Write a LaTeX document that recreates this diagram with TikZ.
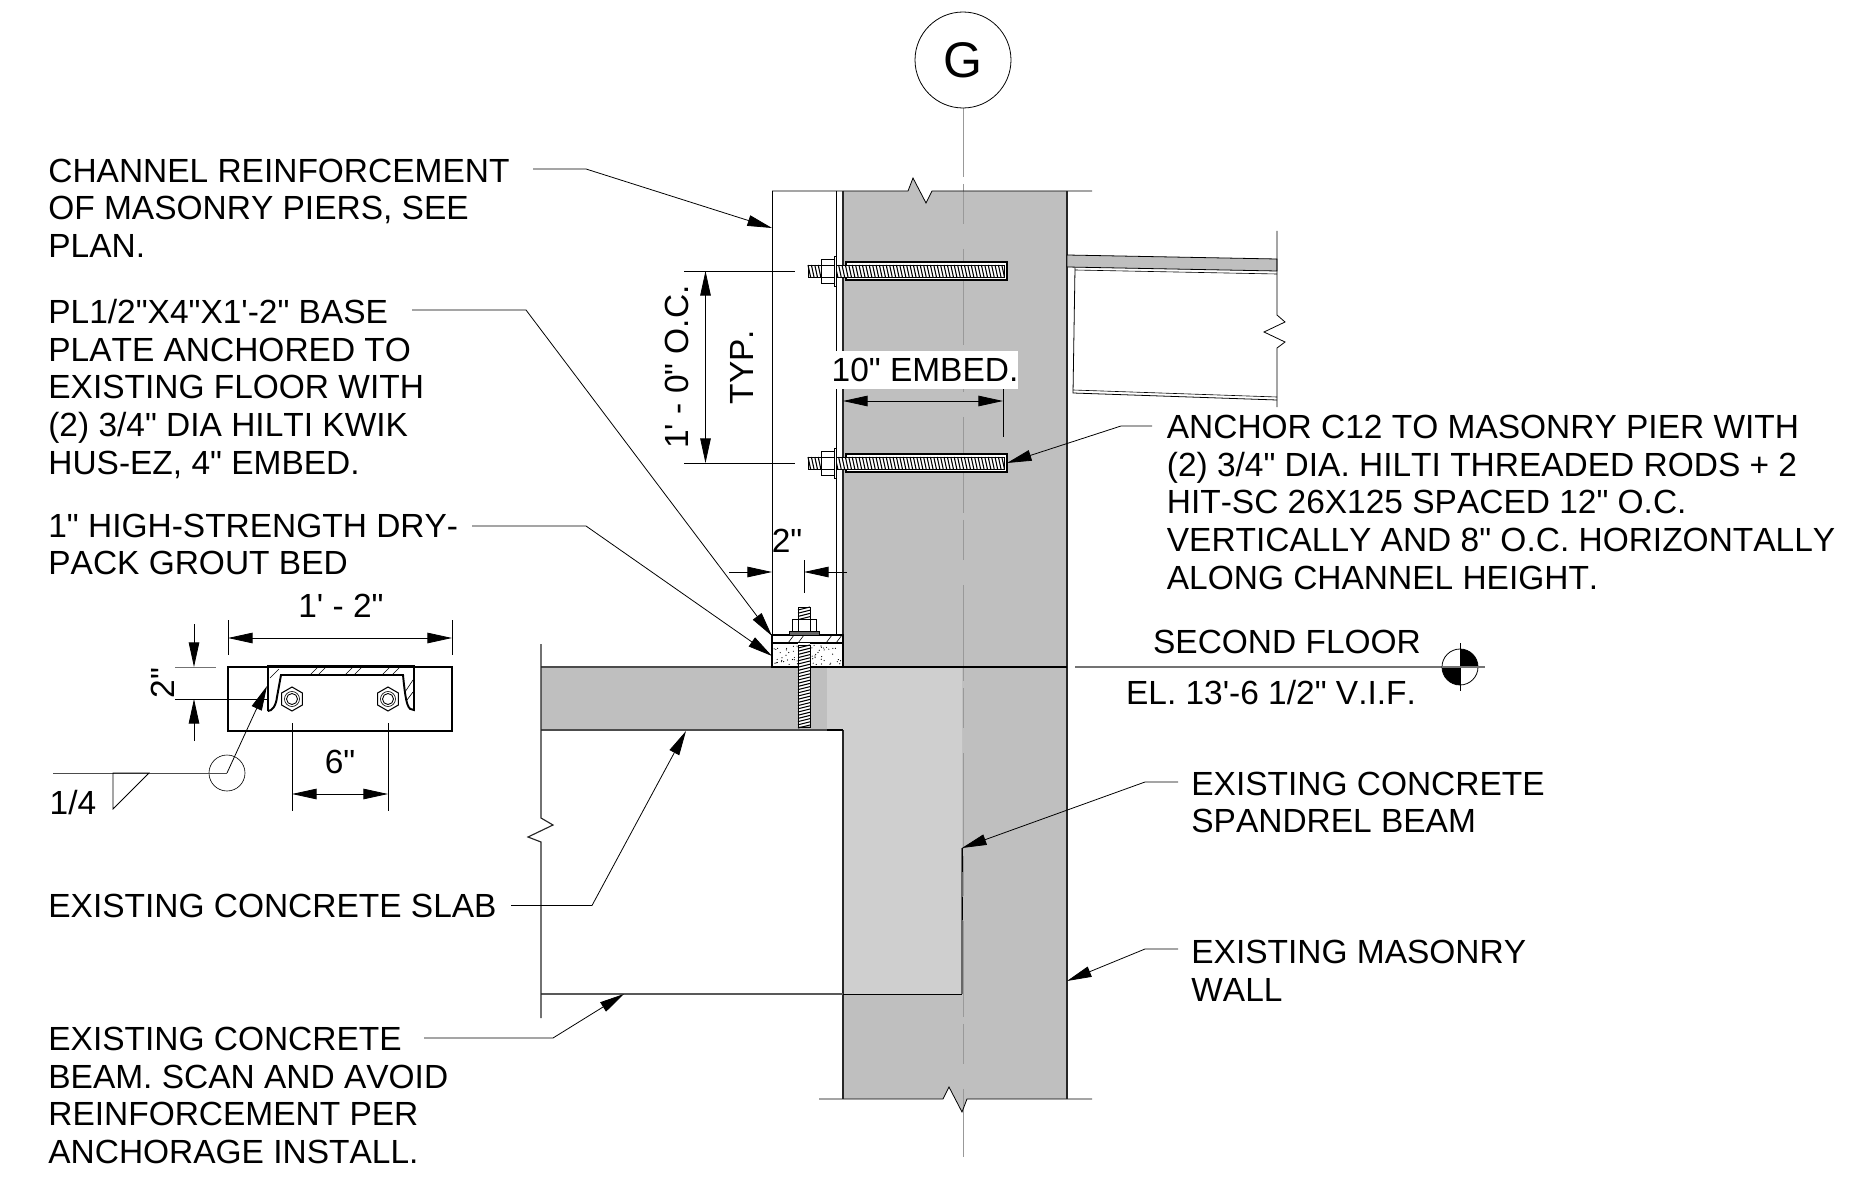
\documentclass[tikz,border=0pt]{standalone}
\usepackage{fontspec}
\newfontfamily\lbfont{Liberation Sans}[Kerning=Off]
\usetikzlibrary{arrows.meta,shapes.geometric,calc}
\definecolor{masonry}{HTML}{BFBFBF}
\definecolor{lightconc}{HTML}{CFCFCF}
\definecolor{cline}{HTML}{999999}
\tikzset{
  thick line/.style={line width=0.85pt,black},
  thin line/.style={line width=0.45pt,black},
  wall line/.style={line width=0.65pt,black!85},
  hair/.style={line width=0.35pt,black},
  lbl/.style={font=\lbfont\fontsize{19.05pt}{21.4pt}\selectfont,align=left,inner sep=0pt,anchor=north west},
  dimtxt/.style={font=\lbfont\fontsize{19.05pt}{21.4pt}\selectfont,inner sep=0pt},
  leader/.style={line width=0.45pt,-{Triangle[length=14pt,width=6.2pt]}},
  dimline/.style={line width=0.45pt,{Triangle[length=14pt,width=6pt]}-{Triangle[length=14pt,width=6pt]}},
  dimoneway/.style={line width=0.45pt,-{Triangle[length=14pt,width=6pt]}},
  center dash/.style={line width=0.55pt,cline,dash pattern=on 54.63pt off 3.98pt on 22.76pt off 14.23pt,dash phase=15.37pt},
}
\newcommand{\threadH}[3]{%
  \fill[white] (#1,{#3-6}) rectangle (#2,{#3+6});
  \pgfmathtruncatemacro{\tn}{(#2-#1)/3.4}%
  \foreach \k in {0,...,\tn}{\draw[line width=0.62pt] ({#1+\k*3.4},{#3-6}) -- ({#1+\k*3.4+2.6},{#3+6});}%
  \draw[line width=0.3pt] (#1,{#3-6}) rectangle (#2,{#3+6});}
\newcommand{\threadV}[3]{%
  \pgfmathtruncatemacro{\tn}{(#3-#2)/3.2}%
  \foreach \k in {0,...,\tn}{\draw[line width=0.6pt] ({#1-6},{#2+\k*3.2+3}) -- ({#1+6},{#2+\k*3.2});}%
  \draw[line width=0.35pt] ({#1-6},#2) rectangle ({#1+6},{#3+1});}
\newcommand{\anchorrod}[1]{%
  \draw[line width=0.8pt,fill=white] (846,{#1-9}) rectangle (1007,{#1+9});
  \threadH{808}{1004}{#1}
  \draw[line width=0.45pt,fill=white] (821,{#1-12}) rectangle (834,{#1+12});
  \draw[line width=0.35pt] (821,{#1-6}) -- (834,{#1-6}) (821,{#1+6}) -- (834,{#1+6});
  \draw[line width=0.45pt,fill=white] (834,{#1-15}) rectangle (836,{#1+15});}
\begin{document}
\begin{tikzpicture}[x=0.02cm,y=-0.02cm]
\useasboundingbox (0,0) rectangle (1856,1179);
% fills
\fill[masonry] (843,191) -- (908,191) -- (913,178) -- (926,203) -- (932,191) -- (1067,191)
  -- (1067,1099) -- (967,1099) -- (962,1112) -- (949,1087) -- (943,1099) -- (843,1099) -- cycle;
\fill[masonry] (541,667) rectangle (843,730);
\fill[lightconc] (827,667) -- (962,667) -- (962,994) -- (843,994) -- (843,730) -- (827,730) -- cycle;
% centre line
\coordinate (cltop) at (963,108);
\coordinate (clbot) at (963,1157);
\draw[center dash] (cltop) -- (clbot);
% grid bubble
\node[draw,circle,line width=0.45pt,minimum size=1.92cm,inner sep=0pt,font=\lbfont\fontsize{28.5pt}{30pt}\selectfont] (gb) at (963,60) {G};
% wall outlines
\draw[thin line] (772,191) -- (908,191) -- (913,178) -- (926,203) -- (932,191) -- (1092,191);
\draw[thin line] (819,1099) -- (943,1099) -- (949,1087) -- (962,1112) -- (967,1099) -- (1092,1099);
\draw[wall line] (1067,191) -- (1067,1099);
\draw[wall line] (843,191) -- (843,667);
\draw[wall line] (843,730) -- (843,1099);
\draw[thin line] (836,191) -- (836,635);
\draw[thin line] (772,191) -- (772,635);
% floor / slab
\draw[line width=0.75pt,black!70] (541,667) -- (772,667);
\draw[thick line] (772,667) -- (1067,667);
\draw[line width=0.7pt,black!55] (1075,667) -- (1442,667);
\draw[line width=0.75pt,black!70] (541,730) -- (827,730);
\draw[thick line] (827,730) -- (843,730);
\draw[line width=0.75pt,black!65] (541,994) -- (843,994);
\draw[thin line] (843,994) -- (962,994);
\draw[line width=0.6pt,black!60] (962,848) -- (962,994);
\draw[thin line] (962,848) -- (962,872) (962,897) -- (962,920);
\draw[wall line] (541,644) -- (541,818) -- (553,825) -- (528,837) -- (541,842) -- (541,1018);
% steel at the right
\draw[thin line,fill=masonry] (1067,255) -- (1277,259) -- (1277,271) -- (1067,267) -- cycle;
\draw[thin line] (1075,268) -- (1073,393) -- (1277,400);
\draw[hair] (1075,270) -- (1277,274);
\draw[hair] (1073,390) -- (1277,397);
\draw[thin line] (1277,231) -- (1277,315) -- (1285,322) -- (1264,332) -- (1285,342) -- (1277,348) -- (1277,407);
% anchor rods
\anchorrod{271}
\anchorrod{463}
% base plate and grout
\draw[thick line,fill=white] (772,635) rectangle (843,643);
\foreach \hx in {792,802,830,840}{\draw[hair] ({\hx-4},643) -- ({\hx+2},635);}
\draw[line width=1.1pt,fill=white] (772,643) rectangle (843,667);
\pgfmathsetseed{7}
\foreach \i in {1,...,60}{%
  \pgfmathsetmacro{\dx}{811+rnd*30}\pgfmathsetmacro{\dy}{645+rnd*20}%
  \pgfmathsetmacro{\dz}{ifthenelse(mod(\i,2)==0,\dx,\dx-37)}%
  \fill (\dz,\dy) circle (0.012cm);}
% floor anchor
\fill[white] (798,643) rectangle (810,726);
\fill[white] (798,607) rectangle (810,619);
\threadV{804}{607}{619}
\threadV{804}{645}{726}
\draw[thin line,fill=white] (792,619) rectangle (816,631);
\draw[hair] (798,619) -- (798,631) (810,619) -- (810,631);
\draw[thin line,fill=black!60] (789,631) rectangle (819,635);
% dimensions on elevation
\coordinate (ex1a) at (684,271); \coordinate (ex1b) at (795,271);
\coordinate (ex2a) at (684,463); \coordinate (ex2b) at (795,463);
\draw[hair] (ex1a) -- (ex1b) (ex2a) -- (ex2b);
\coordinate (d1a) at (705.5,271); \coordinate (d1b) at (705.5,463);
\draw[dimline] (d1a) -- (d1b);
\node[dimtxt,rotate=90] (oc) at (677,367) {1' - 0" O.C.};
\node[dimtxt,rotate=90] (typ) at (742,367) {TYP.};
% 10" embed
\node[dimtxt,fill=white,minimum width=104.7pt,minimum height=21.6pt] (emb) at (925,370) {10" EMBED.};
\coordinate (e1) at (843,401); \coordinate (e2) at (1003,401);
\coordinate (e3) at (1003,389); \coordinate (e4) at (1003,437);
\draw[dimline] (e1) -- (e2);
\draw[hair] (e3) -- (e4);
% 2" at channel
\coordinate (f1) at (729,572); \coordinate (f2) at (772,572);
\coordinate (f3) at (847,572); \coordinate (f4) at (804,572);
\coordinate (f5) at (804,560); \coordinate (f6) at (804,593);
\draw[dimoneway] (f1) -- (f2);
\draw[dimoneway] (f3) -- (f4);
\draw[hair] (f5) -- (f6);
\node[dimtxt] (two) at (787,541) {2"};
% elevation marker
\coordinate (el) at (1460,667);
\fill (el) -- ++(0,-18) arc[start angle=90,end angle=0,radius=.36cm] -- cycle;
\fill (el) -- ++(0,18) arc[start angle=270,end angle=180,radius=.36cm] -- cycle;
\draw[thin line] (el) circle (.36cm);
\draw[hair] (1460,643) -- (1460,691);
\draw[line width=0.7pt,black!55] (1442,667) -- (1485,667);
\node[dimtxt,anchor=center] (sf) at (1287,642) {SECOND FLOOR};
\node[dimtxt,anchor=center] (elv) at (1271,693) {EL. 13'-6 1/2" V.I.F.};
% plan detail
\draw[thick line] (228,667) rectangle (452,731);
\draw[line width=1.1pt] (268,711) -- (268,666) -- (414,666) -- (414,710) .. controls (408,710) and (406,706) .. (403,675) -- (281,675) -- (277,697) .. controls (276,706) and (272,711) .. (268,711);
\foreach \hx in {310,318,345,354,382,392}{\draw[hair] (\hx,675) -- ({\hx+8},667);}
\draw[hair] (270,678) -- (279,669);
\draw[hair] (405,692) -- (413,680);
\draw[hair] (407,700) -- (413,692);
\foreach \bx/\bn in {292/pa,388/pb}{%
  \node[draw,regular polygon,regular polygon sides=6,shape border rotate=30,line width=0.6pt,minimum size=0.48cm,inner sep=0pt] (\bn) at (\bx,699) {};
  \draw[hair] (\bx,699) circle (0.15cm);
  \draw[line width=0.5pt] (\bx,699) circle (0.11cm);}
% plan dims
\coordinate (p1) at (228,620); \coordinate (p2) at (228,655);
\coordinate (p3) at (452,620); \coordinate (p4) at (452,655);
\coordinate (p5) at (228,638); \coordinate (p6) at (452,638);
\draw[hair] (p1) -- (p2) (p3) -- (p4);
\draw[dimline] (p5) -- (p6);
\node[dimtxt] (w14) at (341,606) {1' - 2"};
\coordinate (q1) at (175,667); \coordinate (q2) at (216,667);
\coordinate (q3) at (175,699); \coordinate (q4) at (268,699);
\draw[line width=0.45pt,black!55] (q1) -- (q2);
\draw[hair] (q3) -- (q4);
\coordinate (q5) at (194,624); \coordinate (q6) at (194,667);
\coordinate (q7) at (194,741); \coordinate (q8) at (194,699);
\draw[dimoneway] (q5) -- (q6);
\draw[dimoneway] (q7) -- (q8);
\node[dimtxt,rotate=90] (t2) at (163,683) {2"};
\coordinate (r1) at (292,723); \coordinate (r2) at (292,811);
\coordinate (r3) at (388,723); \coordinate (r4) at (388,811);
\coordinate (r5) at (292,794); \coordinate (r6) at (388,794);
\draw[thin line] (r1) -- (r2) (r3) -- (r4);
\draw[dimline] (r5) -- (r6);
\node[dimtxt] (t6) at (340,762) {6"};
% weld symbol
\coordinate (wc) at (227,773);
\coordinate (wt) at (267,686);
\coordinate (wl) at (53,773);
\coordinate (w1) at (113,773);
\coordinate (w2) at (149,773);
\coordinate (w3) at (113,809);
\draw[hair] (wc) circle (.36cm);
\draw[line width=0.5pt,black!70] (wl) -- (wc);
\draw[leader] (wc) -- (wt);
\draw[thin line] (w1) -- (w3) -- (w2) -- cycle;
\node[dimtxt] (wq) at (73,803) {1/4};
% labels
\node[lbl] (la) at (48,158.5) {CHANNEL REINFORCEMENT\\OF MASONRY PIERS, SEE\\PLAN.};
\node[lbl] (lb) at (48,299) {PL1/2"X4"X1'-2" BASE\\PLATE ANCHORED TO\\EXISTING FLOOR WITH\\(2) 3/4" DIA HILTI KWIK\\HUS-EZ, 4" EMBED.};
\node[lbl] (lc) at (48,513.6) {1" HIGH-STRENGTH DRY-\\PACK GROUT BED};
\node[lbl] (ld) at (1166.5,415) {ANCHOR C12 TO MASONRY PIER WITH\\(2) 3/4" DIA. HILTI THREADED RODS + 2\\HIT-SC 26X125 SPACED 12" O.C.\\VERTICALLY AND 8" O.C. HORIZONTALLY\\ALONG CHANNEL HEIGHT.};
\node[lbl] (le) at (1191,771.6) {EXISTING CONCRETE\\SPANDREL BEAM};
\node[lbl] (lf) at (1191,939.7) {EXISTING MASONRY\\WALL};
\node[lbl] (lg) at (48,893.5) {EXISTING CONCRETE SLAB};
\node[lbl] (lh) at (48,1027) {EXISTING CONCRETE\\BEAM. SCAN AND AVOID\\REINFORCEMENT PER\\ANCHORAGE INSTALL.};
% leaders
\coordinate (a1) at (533,169); \coordinate (a2) at (586,169); \coordinate (a3) at (772,228);
\draw[leader] (a1) -- (a2) -- (a3);
\coordinate (b1) at (412,310); \coordinate (b2) at (526,310); \coordinate (b3) at (772,636);
\draw[leader] (b1) -- (b2) -- (b3);
\coordinate (c1) at (472,526); \coordinate (c2) at (586,526); \coordinate (c3) at (772,656);
\draw[leader] (c1) -- (c2) -- (c3);
\coordinate (d1) at (1152,426); \coordinate (d2) at (1121,426); \coordinate (d3) at (1007,463);
\draw[leader] (d1) -- (d2) -- (d3);
\coordinate (e5) at (1178,782); \coordinate (e6) at (1145,782); \coordinate (e7) at (962,848);
\draw[leader] (e5) -- (e6) -- (e7);
\coordinate (g1) at (1178,949); \coordinate (g2) at (1145,949); \coordinate (g3) at (1067,981);
\draw[leader] (g1) -- (g2) -- (g3);
\coordinate (h1) at (511,905.5); \coordinate (h2) at (592,905.5); \coordinate (h3) at (686,731);
\draw[leader] (h1) -- (h2) -- (h3);
\coordinate (i1) at (424,1038); \coordinate (i2) at (553,1038); \coordinate (i3) at (624,994);
\draw[leader] (i1) -- (i2) -- (i3);
\end{tikzpicture}
\end{document}
